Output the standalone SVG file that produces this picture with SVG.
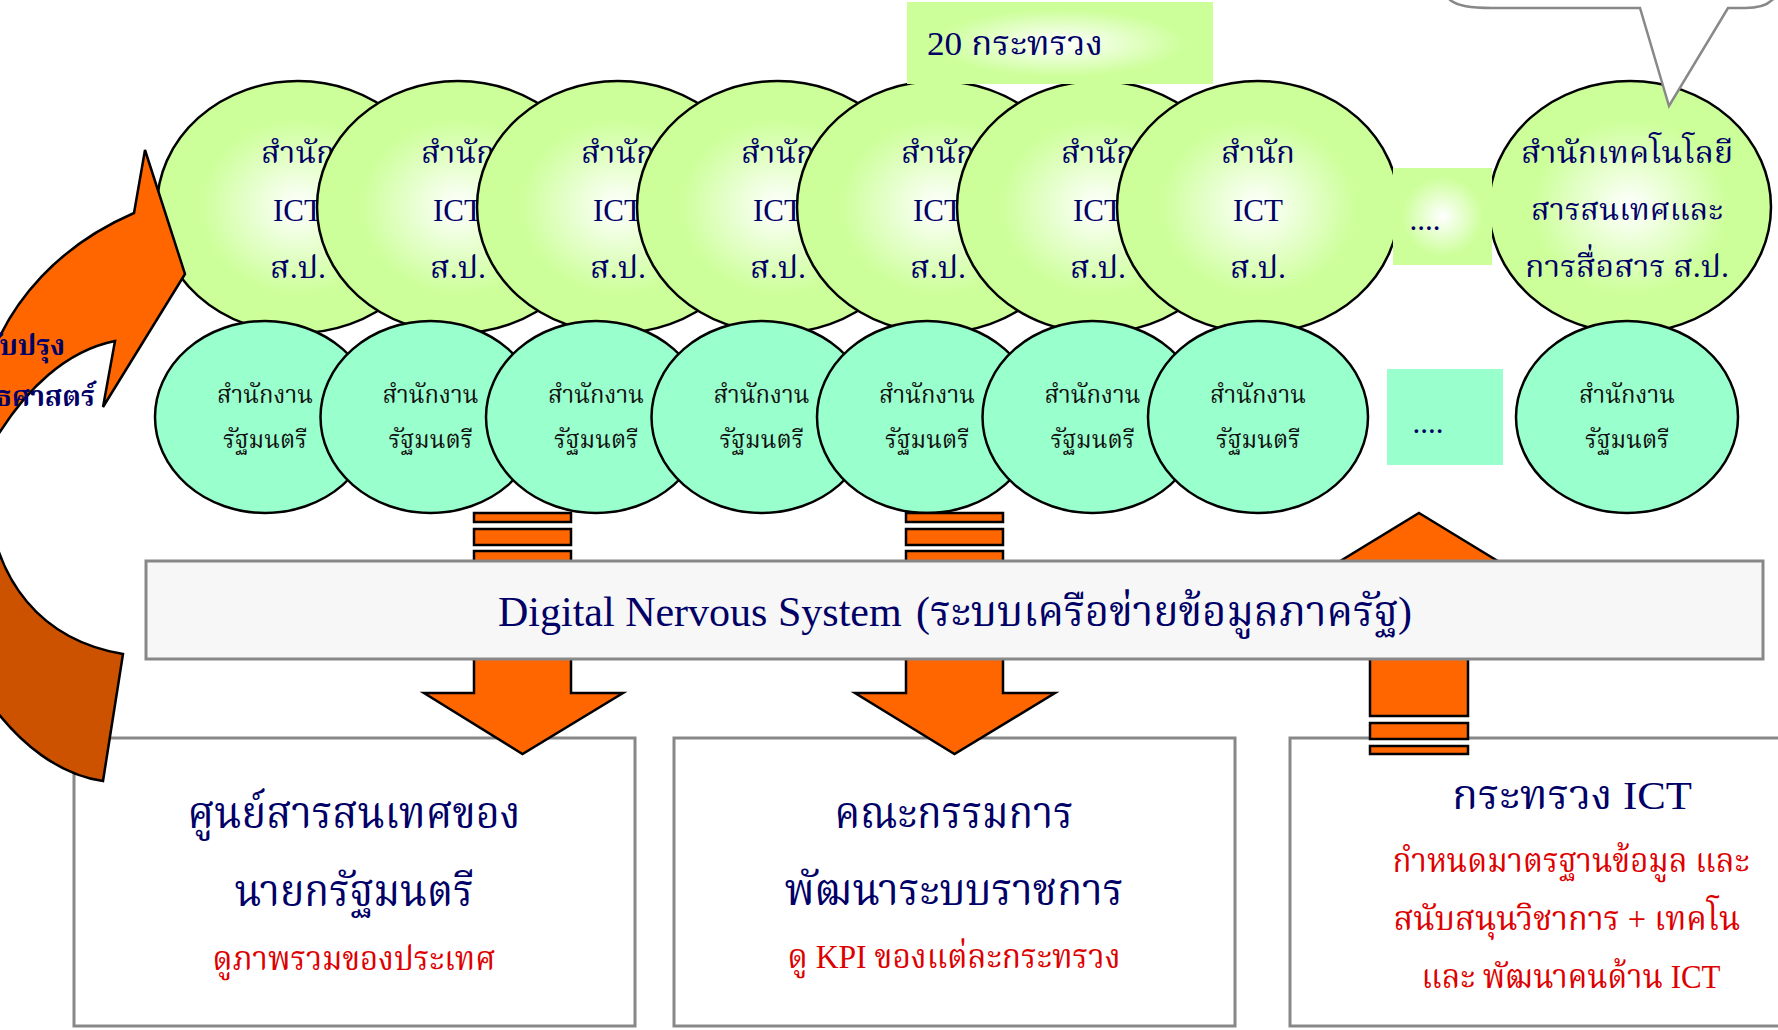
<svg xmlns="http://www.w3.org/2000/svg" width="1778" height="1030" viewBox="0 0 1778 1030">
<defs>
<radialGradient id="gGreen" cx="50%" cy="50%" r="50%">
<stop offset="0" stop-color="#FFFFFF"/>
<stop offset="0.7" stop-color="#CCFF99"/>
<stop offset="1" stop-color="#CCFF99"/>
</radialGradient>
<radialGradient id="gBox" cx="50%" cy="50%" r="55%">
<stop offset="0" stop-color="#FFFFFF"/>
<stop offset="0.75" stop-color="#CCFF99"/>
<stop offset="1" stop-color="#CCFF99"/>
</radialGradient>
<style>
.top{fill:url(#gGreen);stroke:#000;stroke-width:2.5}
.low{fill:#99FFCC;stroke:#000;stroke-width:2.5}
.box{fill:#FFFFFF;stroke:#888888;stroke-width:3}
.arr{fill:#FF6600;stroke:#000;stroke-width:2.5;stroke-linejoin:miter}
.t{font-family:"Liberation Serif","Noto Serif Thai","Noto Sans Thai","Tlwg Typo",serif;text-anchor:middle}
.nv{fill:#000066}
.bk{fill:#111111}
.rd{fill:#DD0000}
.c31{font-size:31px}
.c24{font-size:24px}
</style>
</defs>

<g id="top-circles">
<g id="ict1"><ellipse class="top" cx="298" cy="207" rx="141" ry="126"/><text class="t nv c31" x="298" y="163" textLength="74" lengthAdjust="spacingAndGlyphs">สำนัก</text><text class="t nv c31" x="298" y="221">ICT</text><text class="t nv c31" x="298" y="278" textLength="56" lengthAdjust="spacingAndGlyphs">ส.ป.</text></g>
<g id="ict2"><ellipse class="top" cx="458" cy="207" rx="141" ry="126"/><text class="t nv c31" x="458" y="163" textLength="74" lengthAdjust="spacingAndGlyphs">สำนัก</text><text class="t nv c31" x="458" y="221">ICT</text><text class="t nv c31" x="458" y="278" textLength="56" lengthAdjust="spacingAndGlyphs">ส.ป.</text></g>
<g id="ict3"><ellipse class="top" cx="618" cy="207" rx="141" ry="126"/><text class="t nv c31" x="618" y="163" textLength="74" lengthAdjust="spacingAndGlyphs">สำนัก</text><text class="t nv c31" x="618" y="221">ICT</text><text class="t nv c31" x="618" y="278" textLength="56" lengthAdjust="spacingAndGlyphs">ส.ป.</text></g>
<g id="ict4"><ellipse class="top" cx="778" cy="207" rx="141" ry="126"/><text class="t nv c31" x="778" y="163" textLength="74" lengthAdjust="spacingAndGlyphs">สำนัก</text><text class="t nv c31" x="778" y="221">ICT</text><text class="t nv c31" x="778" y="278" textLength="56" lengthAdjust="spacingAndGlyphs">ส.ป.</text></g>
<g id="ict5"><ellipse class="top" cx="938" cy="207" rx="141" ry="126"/><text class="t nv c31" x="938" y="163" textLength="74" lengthAdjust="spacingAndGlyphs">สำนัก</text><text class="t nv c31" x="938" y="221">ICT</text><text class="t nv c31" x="938" y="278" textLength="56" lengthAdjust="spacingAndGlyphs">ส.ป.</text></g>
<g id="ict6"><ellipse class="top" cx="1098" cy="207" rx="141" ry="126"/><text class="t nv c31" x="1098" y="163" textLength="74" lengthAdjust="spacingAndGlyphs">สำนัก</text><text class="t nv c31" x="1098" y="221">ICT</text><text class="t nv c31" x="1098" y="278" textLength="56" lengthAdjust="spacingAndGlyphs">ส.ป.</text></g>
<g id="ict7"><ellipse class="top" cx="1258" cy="207" rx="141" ry="126"/><text class="t nv c31" x="1258" y="163" textLength="74" lengthAdjust="spacingAndGlyphs">สำนัก</text><text class="t nv c31" x="1258" y="221">ICT</text><text class="t nv c31" x="1258" y="278" textLength="56" lengthAdjust="spacingAndGlyphs">ส.ป.</text></g>
<g id="ict8"><ellipse class="top" cx="1630" cy="207" rx="141" ry="126"/><text class="t nv c31" x="1627" y="163" textLength="212" lengthAdjust="spacingAndGlyphs">สำนักเทคโนโลยี</text><text class="t nv c31" x="1627" y="220" textLength="192" lengthAdjust="spacingAndGlyphs">สารสนเทศและ</text><text class="t nv c31" x="1627" y="277" textLength="204" lengthAdjust="spacingAndGlyphs">การสื่อสาร ส.ป.</text></g>
</g>

<g id="low-circles">
<g id="pm1"><ellipse class="low" cx="265" cy="417" rx="110" ry="96"/><text class="t bk c24" x="265" y="403" textLength="96" lengthAdjust="spacingAndGlyphs">สำนักงาน</text><text class="t bk c24" x="265" y="448" textLength="84" lengthAdjust="spacingAndGlyphs">รัฐมนตรี</text></g>
<g id="pm2"><ellipse class="low" cx="430.5" cy="417" rx="110" ry="96"/><text class="t bk c24" x="430.5" y="403" textLength="96" lengthAdjust="spacingAndGlyphs">สำนักงาน</text><text class="t bk c24" x="430.5" y="448" textLength="84" lengthAdjust="spacingAndGlyphs">รัฐมนตรี</text></g>
<g id="pm3"><ellipse class="low" cx="596" cy="417" rx="110" ry="96"/><text class="t bk c24" x="596" y="403" textLength="96" lengthAdjust="spacingAndGlyphs">สำนักงาน</text><text class="t bk c24" x="596" y="448" textLength="84" lengthAdjust="spacingAndGlyphs">รัฐมนตรี</text></g>
<g id="pm4"><ellipse class="low" cx="761.5" cy="417" rx="110" ry="96"/><text class="t bk c24" x="761.5" y="403" textLength="96" lengthAdjust="spacingAndGlyphs">สำนักงาน</text><text class="t bk c24" x="761.5" y="448" textLength="84" lengthAdjust="spacingAndGlyphs">รัฐมนตรี</text></g>
<g id="pm5"><ellipse class="low" cx="927" cy="417" rx="110" ry="96"/><text class="t bk c24" x="927" y="403" textLength="96" lengthAdjust="spacingAndGlyphs">สำนักงาน</text><text class="t bk c24" x="927" y="448" textLength="84" lengthAdjust="spacingAndGlyphs">รัฐมนตรี</text></g>
<g id="pm6"><ellipse class="low" cx="1092.5" cy="417" rx="110" ry="96"/><text class="t bk c24" x="1092.5" y="403" textLength="96" lengthAdjust="spacingAndGlyphs">สำนักงาน</text><text class="t bk c24" x="1092.5" y="448" textLength="84" lengthAdjust="spacingAndGlyphs">รัฐมนตรี</text></g>
<g id="pm7"><ellipse class="low" cx="1258" cy="417" rx="110" ry="96"/><text class="t bk c24" x="1258" y="403" textLength="96" lengthAdjust="spacingAndGlyphs">สำนักงาน</text><text class="t bk c24" x="1258" y="448" textLength="84" lengthAdjust="spacingAndGlyphs">รัฐมนตรี</text></g>
<g id="pm8"><ellipse class="low" cx="1627" cy="417" rx="111" ry="96"/><text class="t bk c24" x="1627" y="403" textLength="96" lengthAdjust="spacingAndGlyphs">สำนักงาน</text><text class="t bk c24" x="1627" y="448" textLength="84" lengthAdjust="spacingAndGlyphs">รัฐมนตรี</text></g>
</g>

<g id="dots-top"><rect x="1393" y="168" width="99" height="97" fill="url(#gBox)"/><text class="t nv c31" x="1425" y="230">....</text></g>
<g id="dots-low"><rect x="1387" y="369" width="116" height="96" fill="#99FFCC"/><text class="t nv c31" x="1428" y="433">....</text></g>

<g id="ministries"><rect x="907" y="2" width="306" height="82" fill="url(#gBox)"/><text class="t nv" style="font-size:33px;text-anchor:start" x="927" y="55" textLength="176" lengthAdjust="spacingAndGlyphs">20 กระทรวง</text></g>

<g id="bubble"><path d="M 1448,-12 L 1450,0 C 1458,6 1470,8 1492,8 L 1640,8 L 1669,106 L 1728,8 L 1745,8 C 1760,8 1768,4 1772,0 L 1790,-12 Z" fill="#FFFFFF" stroke="#888888" stroke-width="2.5" stroke-linejoin="miter"/></g>

<g id="box-pm"><rect class="box" x="74" y="738" width="561" height="288"/><text class="t nv" style="font-size:45px" x="354" y="828" textLength="333" lengthAdjust="spacingAndGlyphs">ศูนย์สารสนเทศของ</text><text class="t nv" style="font-size:45px" x="354" y="906" textLength="239" lengthAdjust="spacingAndGlyphs">นายกรัฐมนตรี</text><text class="t rd" style="font-size:33px" x="354" y="970" textLength="283" lengthAdjust="spacingAndGlyphs">ดูภาพรวมของประเทศ</text></g>
<g id="box-opdc"><rect class="box" x="674" y="738" width="561" height="288"/><text class="t nv" style="font-size:45px" x="954" y="828" textLength="239" lengthAdjust="spacingAndGlyphs">คณะกรรมการ</text><text class="t nv" style="font-size:45px" x="954" y="905" textLength="339" lengthAdjust="spacingAndGlyphs">พัฒนาระบบราชการ</text><text class="t rd" style="font-size:33px" x="954" y="968" textLength="333" lengthAdjust="spacingAndGlyphs">ดู KPI ของแต่ละกระทรวง</text></g>
<g id="box-ict"><rect class="box" x="1290" y="738" width="600" height="288"/><text class="t nv" style="font-size:41px" x="1572" y="809" textLength="240" lengthAdjust="spacingAndGlyphs">กระทรวง ICT</text><text class="t rd" style="font-size:33px" x="1571" y="872" textLength="357" lengthAdjust="spacingAndGlyphs">กำหนดมาตรฐานข้อมูล และ</text><text class="t rd" style="font-size:33px" x="1567" y="930" textLength="347" lengthAdjust="spacingAndGlyphs">สนับสนุนวิชาการ + เทคโน</text><text class="t rd" style="font-size:33px" x="1571" y="988" textLength="299" lengthAdjust="spacingAndGlyphs">และ พัฒนาคนด้าน ICT</text></g>

<g id="connectors">
<rect class="arr" x="474" y="513" width="97" height="9"/>
<rect class="arr" x="474" y="529" width="97" height="16"/>
<path class="arr" d="M 474,551 L 571,551 L 571,693 L 623,693 L 522.5,754 L 424,693 L 474,693 Z"/>
<rect class="arr" x="906" y="513" width="97" height="9"/>
<rect class="arr" x="906" y="529" width="97" height="16"/>
<path class="arr" d="M 906,551 L 1003,551 L 1003,693 L 1055,693 L 954.5,754 L 855,693 L 906,693 Z"/>
<path class="arr" d="M 1419,513 L 1519,574 L 1468,574 L 1468,716 L 1370,716 L 1370,574 L 1319,574 Z"/>
<rect class="arr" x="1370" y="723" width="98" height="16"/>
<rect class="arr" x="1370" y="746" width="98" height="8"/>
</g>

<g id="dns"><rect x="146" y="561" width="1617" height="98" fill="#F7F7F7" stroke="#888888" stroke-width="3"/><text class="t nv" style="font-size:42px;text-anchor:start" x="498" y="626">Digital Nervous System</text><text class="t nv" style="font-size:42px;text-anchor:start" x="916" y="626" textLength="496" lengthAdjust="spacingAndGlyphs">(ระบบเครือข่ายข้อมูลภาครัฐ)</text></g>

<g id="cycle-arrow">
<path d="M -12,365 C 10,300 60,245 134,213 L 145,150 L 185,274 L 103,407 L 115,341 C 70,350 25,385 -12,452 Z" fill="#FF6600" stroke="#000" stroke-width="2.5"/>
<path d="M -12,500 C -5,580 40,640 123,654 L 103,781 C 60,775 20,745 -12,700 Z" fill="#CC5200" stroke="#000" stroke-width="2.5"/>
<text class="t nv" style="font-size:28px;font-weight:bold;text-anchor:end" x="65" y="355">ปรับปรุง</text>
<text class="t nv" style="font-size:28px;font-weight:bold;text-anchor:end" x="95" y="406">ยุทธศาสตร์</text>
</g>
</svg>
